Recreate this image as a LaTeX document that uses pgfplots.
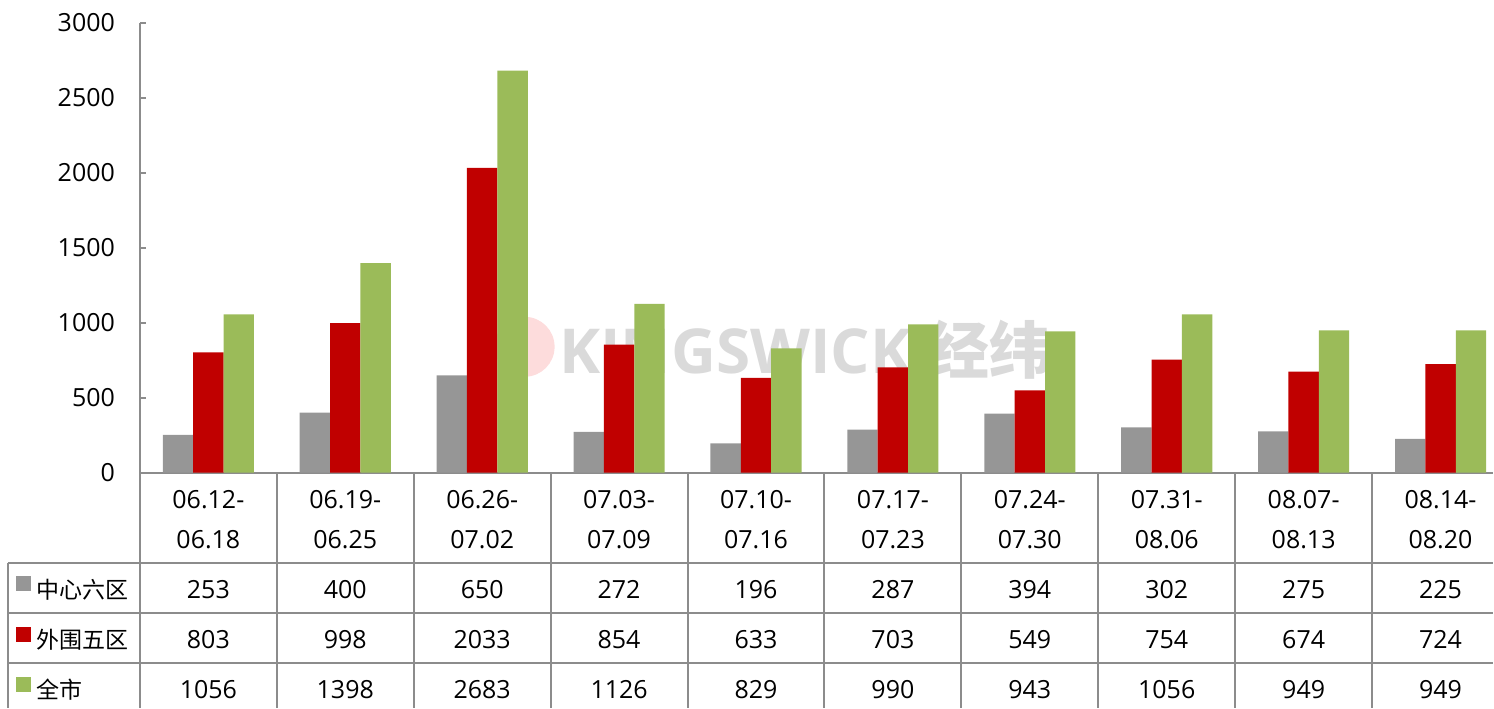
\documentclass[border=0pt]{standalone}
\usepackage{fontspec}
\setmainfont{Open Sans}
\newfontfamily\cjk{Noto Sans CJK SC}
\usepackage{pgfplots}
\usepackage{pgfplotstable}
\pgfplotsset{compat=1.18}
\definecolor{cgray}{HTML}{969696}
\definecolor{cred}{HTML}{C00000}
\definecolor{cgreen}{HTML}{9BBB59}
\definecolor{cline}{HTML}{8C8C8C}
\definecolor{wm}{HTML}{DADADA}
\definecolor{wmpink}{HTML}{FDDCDC}
\pgfplotstableread{
x a b c
0 253 803 1056
1 400 998 1398
2 650 2033 2683
3 272 854 1126
4 196 633 829
5 287 703 990
6 394 549 943
7 302 754 1056
8 275 674 949
9 225 724 949
}\data
\begin{document}
\begin{tikzpicture}
\begin{scope}[x=0.5pt,y=-0.5pt]
\path[use as bounding box] (0,0) rectangle (1494,708);
\end{scope}
\begin{axis}[set layers,
  at={(70pt,-236.5pt)}, anchor=south west,
  scale only axis, width=677pt, height=225pt,
  xmin=-0.5, xmax=9.383, ymin=0, ymax=3000,
  axis x line=bottom, axis y line=left,
  axis line style={-, cline, line width=1pt},
  xtick=\empty, ytick={0,500,...,3000},
  tick align=inside, major tick length=3pt,
  tick style={cline, line width=1pt},
  ybar=0pt, bar width=15.2pt,
  yticklabel style={font=\fontsize{12.5}{15}\selectfont, xshift=-9pt},
  /pgf/number format/assume math mode=true,
  /pgf/number format/1000 sep={},
  scaled y ticks=false,
  clip=false]
\fill[on layer=axis background, wmpink] (axis cs:2.31,840) circle[radius=15pt];
\node[on layer=axis background, text=wm, font=\fontsize{31}{31}\selectfont\bfseries] at (axis cs:4.36,820) {KINGSWICK\hspace{8pt}{\cjk 经纬}};
\addplot[fill=cgray, draw=none] table[x=x,y=a]{\data};
\addplot[fill=cred, draw=none] table[x=x,y=b]{\data};
\addplot[fill=cgreen, draw=none] table[x=x,y=c]{\data};
\end{axis}
\begin{scope}[x=0.5pt,y=-0.5pt, font=\fontsize{12.5}{15}\selectfont]
\draw[cline, line width=1pt] (8,563) -- (1494,563);
\draw[cline, line width=1pt] (8,613) -- (1494,613);
\draw[cline, line width=1pt] (8,663) -- (1494,663);
\draw[cline, line width=1pt] (8,563) -- (8,708);
\foreach \k in {0,...,9} {
  \draw[cline, line width=1pt] ({140+137*\k},473) -- ({140+137*\k},708);
}
\fill[cgray] (16,576) rectangle (31,591);
\fill[cred] (16,627) rectangle (31,642);
\fill[cgreen] (16,677) rectangle (31,692);
\node[anchor=west, inner sep=0pt, font=\fontsize{11.5}{13}\cjk] at (36,590) {中心六区};
\node[anchor=west, inner sep=0pt, font=\fontsize{11.5}{13}\cjk] at (36,640) {外围五区};
\node[anchor=west, inner sep=0pt, font=\fontsize{11.5}{13}\cjk] at (36,690) {全市};
\foreach \i/\s/\e in {0/06.12/06.18, 1/06.19/06.25, 2/06.26/07.02, 3/07.03/07.09, 4/07.10/07.16, 5/07.17/07.23, 6/07.24/07.30, 7/07.31/08.06, 8/08.07/08.13, 9/08.14/08.20} {
  \node at ({208.5+137*\i},500) {\s-};
  \node at ({208.5+137*\i},540) {\e};
}
\foreach \i in {0,...,9} {
  \pgfplotstablegetelem{\i}{a}\of\data
  \node at ({208.5+137*\i},590) {\pgfplotsretval};
  \pgfplotstablegetelem{\i}{b}\of\data
  \node at ({208.5+137*\i},640) {\pgfplotsretval};
  \pgfplotstablegetelem{\i}{c}\of\data
  \node at ({208.5+137*\i},690) {\pgfplotsretval};
}
\end{scope}
\end{tikzpicture}
\end{document}
